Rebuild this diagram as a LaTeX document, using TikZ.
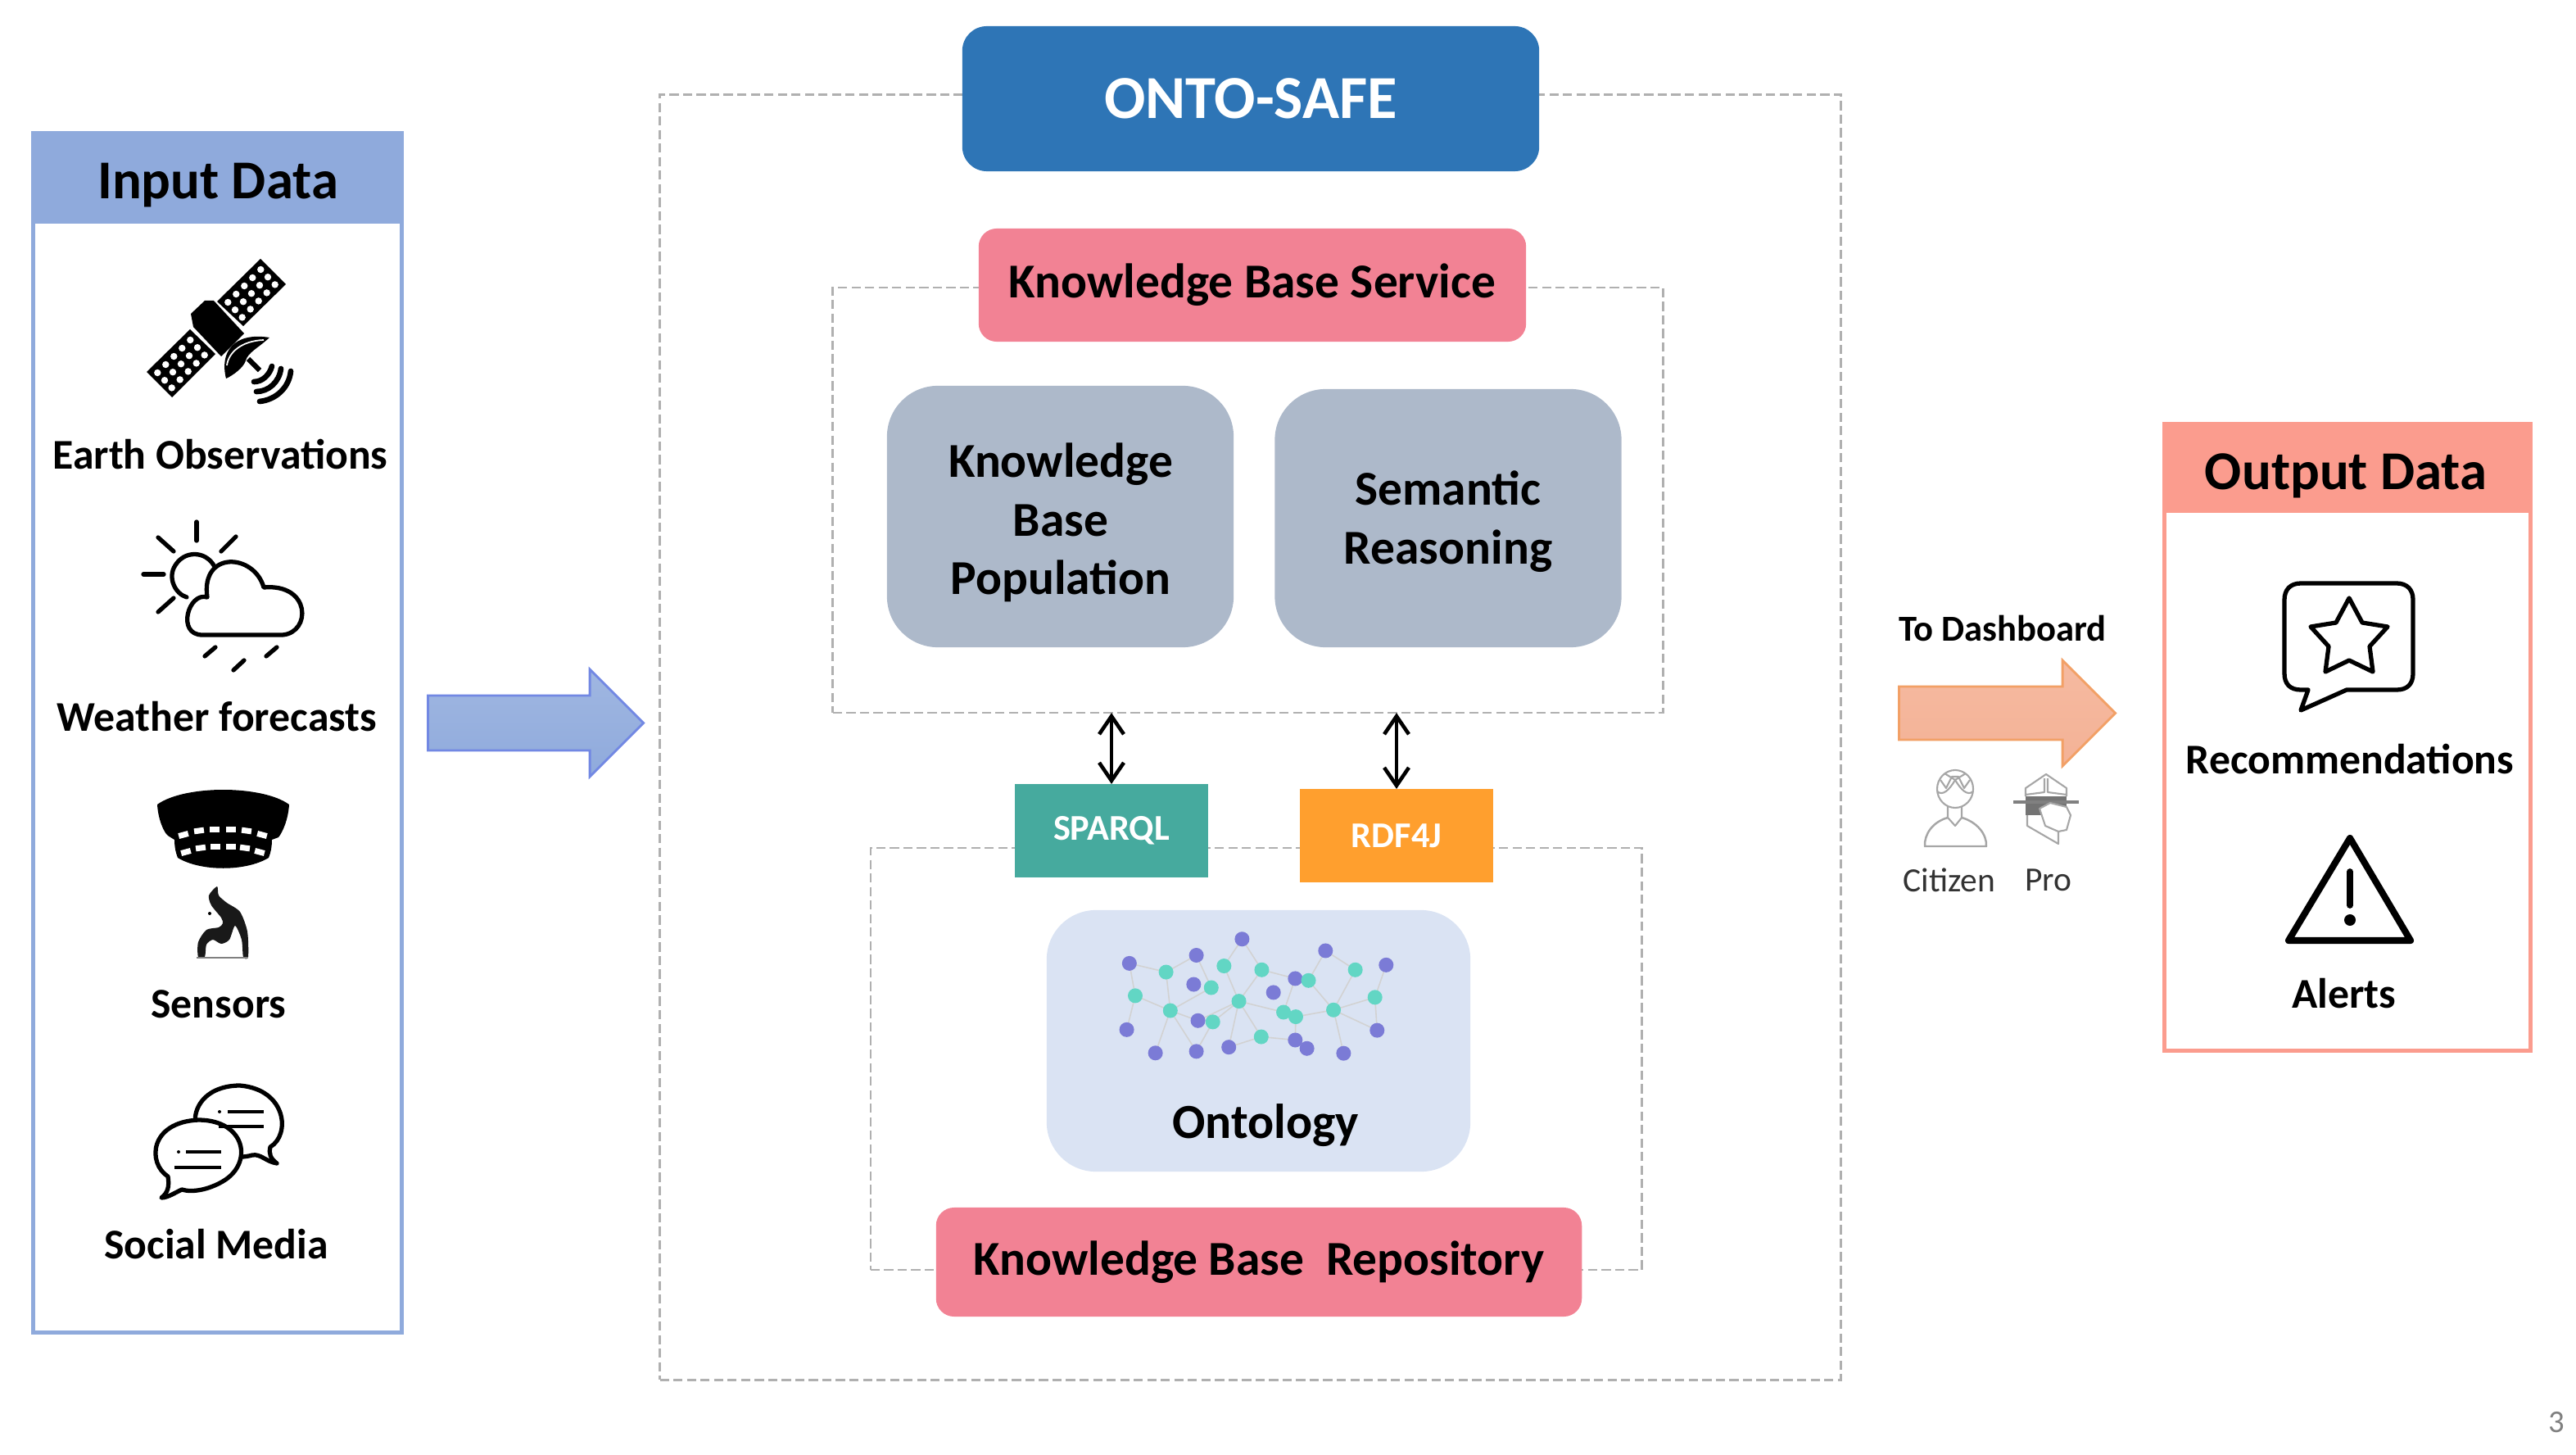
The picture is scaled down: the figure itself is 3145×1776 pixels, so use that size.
\documentclass[tikz,border=0pt]{standalone}
\usepackage{fontspec}
\setmainfont{Carlito}
\usetikzlibrary{arrows.meta,shapes.arrows}
\definecolor{inblue}{HTML}{8FAADC}
\definecolor{outsalmon}{HTML}{FB9C8E}
\definecolor{ontoblue}{HTML}{2E75B6}
\definecolor{kbpink}{HTML}{F28294}
\definecolor{slategray}{HTML}{ADB9CA}
\definecolor{paleblue}{HTML}{DAE3F3}
\definecolor{sparqlteal}{HTML}{46AA9E}
\definecolor{rdforange}{HTML}{FF9F2E}
\definecolor{dashgray}{HTML}{B0B0B0}
\definecolor{netpurple}{HTML}{7B7BD6}
\definecolor{netteal}{HTML}{62D6C4}
\definecolor{arrowpeach}{HTML}{F4B296}
\definecolor{arrowedge}{HTML}{F2A066}
\begin{document}
\begin{tikzpicture}[
    x=0.01cm, y=-0.01cm,
    panel/.style={rectangle, draw, line width=1.4pt, inner sep=0pt, outer sep=0pt},
    head/.style={rectangle, inner sep=0pt, outer sep=0pt},
    headtext/.style={inner sep=0pt, font=\fontsize{19}{23}\selectfont\bfseries},
    itemlabel/.style={inner sep=0pt, font=\fontsize{14.7}{18}\selectfont\bfseries},
    dashbox/.style={rectangle, draw=dashgray, line width=0.7pt, dash pattern=on 3.2pt off 1.5pt, inner sep=0pt, outer sep=0pt},
    kbtitle/.style={rectangle, rounded corners=0.22cm, fill=kbpink, inner sep=0pt, outer sep=0pt, font=\fontsize{16.9}{20}\selectfont\bfseries},
    module/.style={rectangle, rounded corners=0.62cm, fill=slategray, inner sep=0pt, minimum width=4.23cm},
    moduletext/.style={inner sep=0pt, align=center, font=\fontsize{16.9}{20.4}\selectfont\bfseries},
    endpoint/.style={rectangle, inner sep=0pt, outer sep=0pt, minimum width=2.35cm, minimum height=1.14cm, text=white, font=\fontsize{12.6}{15}\selectfont\bfseries},
    blockarrow/.style={single arrow, anchor=tail, single arrow head extend=0.32cm, single arrow tip angle=90, inner sep=0.32cm, line width=0.8pt},
    userlabel/.style={inner sep=0pt, text=black!80, font=\fontsize{11.8}{14}\selectfont},
    icon/.style={line width=1.5pt, line cap=round, line join=round},
    usericon/.style={draw=gray!70, line width=0.6pt, line join=round},
    linkarrow/.style={{Straight Barb[length=0.22cm,width=0.3cm]}-{Straight Barb[length=0.22cm,width=0.3cm]}, line width=1.3pt},
    netlink/.style={draw=gray!35, line width=0.45pt}
]
\useasboundingbox (0,0) rectangle (3145,1776);

\node[panel, draw=inblue, minimum width=4.50cm, minimum height=14.64cm] (inputbox) at (265.5,894.5) {};
\node[head, fill=inblue, minimum width=4.55cm, minimum height=1.13cm] (inputhead) at (265.5,216.5) {};
\node[headtext] (inputtitle) at (266,226) {Input Data};
\node[itemlabel] (earth) at (269,555) {Earth Observations};
\node[itemlabel] (weather) at (265,875) {Weather forecasts};
\node[itemlabel] (sensors) at (267,1226) {Sensors};
\node[itemlabel] (social) at (264,1519) {Social Media};

\fill (318,316) -- (349,347) -- (297,398) -- (265,368) -- cycle;
\fill (232,402) -- (263,432) -- (210,485) -- (179,454) -- cycle;
\foreach \ox/\oy in {318.3/329,232.3/415}
    \foreach \i in {0,...,4}
        \foreach \j in {0,...,2}
            \fill[white] (\ox-\i*10+\j*8.7,\oy+\i*10+\j*9.2) circle (0.042cm);
\fill (233,383) -- (250,367) -- (261,367) -- (298,407) -- (270,435) -- (236,399) -- cycle;
\fill (276,462) .. controls (268,430) and (285,405) .. (329,412) .. controls (315,425) and (303,430) .. (300,440) .. controls (298,448) and (285,458) .. cycle;
\draw[white, line width=0.5pt] (277,446) .. controls (279,430) and (295,416) .. (322,415);
\draw[line width=1.8pt] (303,438) -- (317,452);
\draw[icon, line width=1.9pt] (310,466) .. controls (320,466) and (329,458) .. (332,447);
\draw[icon, line width=1.9pt] (313,478) .. controls (328,478) and (341,466) .. (343,450);
\draw[icon, line width=1.9pt] (317,490) .. controls (337,488) and (353,473) .. (355,453);

\draw[icon] (261,690) .. controls (250,672) and (225,672) .. (214,690) .. controls (204,705) and (214,725) .. (228,729);
\draw[icon] (240,637) -- (240,660);
\draw[icon] (193,656) -- (212,673);
\draw[icon] (270,673) -- (288,655);
\draw[icon] (175,701) -- (200,701);
\draw[icon] (193,747) -- (212,730);
\draw[icon, fill=white] (247,775) -- (345,775) .. controls (380,772) and (380,712) .. (322,717)
    .. controls (310,675) and (245,672) .. (253,729) .. controls (230,722) and (215,775) .. (247,775) -- cycle;
\draw[icon] (250,801) -- (263,790);
\draw[icon] (285,818) -- (298,806);
\draw[icon] (325,801) -- (338,790);

\fill (192,982) .. controls (225,958) and (320,958) .. (353,982) .. controls (352,1000) and (345,1016) .. (340,1022) -- (332,1025)
    .. controls (332,1035) and (330,1042) .. (328,1047) .. controls (300,1064) and (245,1064) .. (217,1047)
    .. controls (215,1042) and (213,1035) .. (213,1025) -- (205,1020) .. controls (200,1016) and (193,1000) .. cycle;
\foreach \cx/\cy/\t in {224/1019/15,243/1014/8,262/1012/0,282/1012/0,301/1014/-8,320/1019/-15,227/1040/15,245/1035/8,263/1033/0,282/1033/0,299/1035/-8,317/1040/-15}
    \fill[white, rotate around={\t:(\cx,\cy)}] (\cx-6,\cy-3.5) rectangle (\cx+6,\cy+3.5);
\fill[black!90] plot[smooth cycle, tension=0.45] coordinates {(265,1082) (255,1093) (258,1105) (270,1120) (272,1127) (267,1132) (252,1135) (242,1150) (242,1168) (250,1168) (252,1153) (260,1147) (270,1152) (280,1147) (287,1130) (295,1147) (297,1168) (303,1168) (302,1137) (293,1113) (277,1102) (267,1093)};
\fill (256,1115) circle (0.02cm);
\draw[line width=0.5pt, gray] (240,1169) -- (303,1169);

\draw[icon, fill=white] (330,1400) .. controls (355,1385) and (350,1330) .. (293,1325) .. controls (240,1325) and (225,1370) .. (250,1395)
    .. controls (265,1412) and (290,1415) .. (308,1410) .. controls (318,1408) and (325,1418) .. (338,1420) .. controls (330,1414) and (328,1408) .. cycle;
\draw[icon, fill=white] (205,1436) .. controls (180,1420) and (182,1370) .. (242,1367) .. controls (300,1367) and (310,1420) .. (272,1442)
    .. controls (255,1452) and (235,1456) .. (222,1452) .. controls (215,1455) and (205,1462) .. (197,1462) .. controls (205,1456) and (207,1448) .. cycle;
\draw[line width=1.1pt] (278,1357) -- (322,1357) (267,1375) -- (322,1375) (227,1406) -- (270,1406) (213,1425) -- (270,1425);
\fill (268,1357) circle (0.02cm);
\fill (218,1406) circle (0.02cm);

\node[blockarrow, draw=inblue!80!blue, top color=inblue!85!white, bottom color=inblue, minimum height=2.63cm, minimum width=1.27cm] (inarrow) at (521,882.5) {};

\node[dashbox, minimum width=14.41cm, minimum height=15.68cm] (safebox) at (1526.5,900) {};
\node[rectangle, rounded corners=0.3cm, fill=ontoblue, text=white, inner sep=0pt, minimum width=7.04cm, minimum height=1.77cm, font=\fontsize{21.2}{25}\selectfont\bfseries] (ontosafe) at (1527,120.5) {ONTO-SAFE};

\node[dashbox, minimum width=10.13cm, minimum height=5.19cm] (servicebox) at (1523.5,610.5) {};
\node[kbtitle, minimum width=6.68cm, minimum height=1.38cm] (kbservice) at (1529,348) {\raisebox{-0.5pt}{Knowledge Base Service}};
\node[module, minimum height=3.19cm] (population) at (1294.5,630.5) {};
\node[module, minimum height=3.15cm] (reasoning) at (1768,632.5) {};
\node[moduletext] (populationtext) at (1295,638) {Knowledge\\Base\\Population};
\node[moduletext] (reasoningtext) at (1768,636.5) {Semantic\\Reasoning};

\node[dashbox, minimum width=9.41cm, minimum height=5.15cm] (repobox) at (1533.5,1292.5) {};
\node[endpoint, fill=sparqlteal] (sparql) at (1357,1014) {\raisebox{-1.1pt}{SPARQL}};
\node[endpoint, fill=rdforange] (rdfj) at (1705,1020) {RDF4J};
\node[rectangle, rounded corners=0.6cm, fill=paleblue, inner sep=0pt, minimum width=5.17cm, minimum height=3.19cm] (ontology) at (1536.5,1270.5) {};
\node[inner sep=0pt, font=\fontsize{17}{20}\selectfont] (ontotext) at (1545,1374) {\textbf{Ontology}};
\node[kbtitle, minimum width=7.88cm, minimum height=1.33cm] (kbrepo) at (1537,1540.5) {Knowledge Base\ \ Repository};

\draw[linkarrow] (servicebox.south -| sparql.north) -- (sparql.north);
\draw[linkarrow] (servicebox.south -| rdfj.north) -- (rdfj.north);

\begin{scope}[shift={(1042,850)}, xscale=.649, yscale=.395]
\foreach \i/\a/\b in {1/519/825,2/645/800,3/731/750,4/888/786,5/1002/830,6/640/890,7/831/872,8/790/915,9/648/1002,10/514/1030,11/568/1102,12/645/1097,13/706/1084,14/831/1062,15/853/1088,16/922/1103,17/985/1032}
    \coordinate (p\i) at (\a,\b);
\foreach \i/\a/\b in {1/588/852,2/697/833,3/768/845,4/856/878,5/944/845,6/673/900,7/530/925,8/596/971,9/725/942,10/809/976,11/832/990,12/903/969,13/981/930,14/676/1006,15/767/1052}
    \coordinate (t\i) at (\a,\b);
\end{scope}
\foreach \a/\b in {p1/t1,t1/p2,t1/t8,p1/t7,t7/t8,t7/p10,t8/t6,t8/p11,t8/p9,t8/p12,p2/t6,t2/p3,p3/t3,t2/t9,t3/t9,t3/p7,p7/t10,t9/t10,t9/t14,t9/p9,t9/p13,t9/t15,t10/t11,t11/t12,t12/t4,t12/t5,t12/t13,t12/p17,t12/p16,t4/p4,p4/t5,t13/p5,t13/p17,t14/p12,p13/t15,t15/p14,p14/t11,p14/p15}
    \draw[netlink] (\a) -- (\b);
\foreach \i in {1,...,17}
    \fill[netpurple] (p\i) circle (0.09cm);
\foreach \i in {1,...,15}
    \fill[netteal] (t\i) circle (0.09cm);

\node[blockarrow, draw=arrowedge, top color=arrowpeach!90!white, bottom color=arrowpeach, minimum height=2.64cm, minimum width=1.23cm, inner sep=0.31cm] (outarrow) at (2317,870.5) {};
\node[inner sep=0pt, font=\fontsize{12.7}{15}\selectfont\bfseries] (dashboard) at (2445,767) {To Dashboard};
\node[userlabel] (citizen) at (2380,1074) {Citizen};
\node[userlabel] (pro) at (2501,1074) {Pro};

\draw[usericon] (2387,963) ellipse [x radius=22, y radius=23];
\draw[usericon] (2365,966) .. controls (2372,972) and (2380,964) .. (2387,952) .. controls (2394,964) and (2402,972) .. (2409,966);
\draw[usericon] (2369,952) -- (2376,962) -- (2383,948) -- (2391,948) -- (2398,962) -- (2405,952);
\draw[usericon] (2374,944) -- (2387,952) -- (2400,944);
\draw[usericon] (2378,984) -- (2378,998) -- (2387,1008) -- (2395,998) -- (2395,984);
\draw[usericon, line width=0.7pt] (2378,998) .. controls (2360,1003) and (2349,1018) .. (2350,1033) -- (2425,1033) .. controls (2426,1018) and (2413,1003) .. (2395,998);

\fill[gray!90!black] (2473,972) rectangle (2523,995);
\draw[usericon] (2473,972) -- (2473,962) -- (2498,945) -- (2523,962) -- (2523,972) (2496,950) -- (2496,967) -- (2473,970) (2500,950) -- (2500,967) -- (2523,970);
\draw[usericon, draw=gray, line width=0.9pt] (2458,979) -- (2538,979);
\draw[usericon, fill=white] (2490,987) -- (2503,980) -- (2523,985) -- (2528,995) -- (2523,1013) -- (2513,1015) -- (2497,1008) -- cycle;
\draw[usericon] (2475,995) -- (2475,1008) -- (2513,1030) -- (2513,1015);

\node[panel, draw=outsalmon, minimum width=4.47cm, minimum height=7.65cm] (outputbox) at (2866,900) {};
\node[head, fill=outsalmon, minimum width=4.52cm, minimum height=1.11cm] (outputhead) at (2866,570.5) {};
\node[headtext] (outputtitle) at (2864,581) {Output Data};
\node[itemlabel] (recom) at (2869,927) {Recommendations};
\node[itemlabel] (alerts) at (2862,1213) {Alerts};

\begin{scope}[shift={(-6,0)}]
\draw[icon] (2815,712) -- (2932,712) .. controls (2945,712) and (2952,720) .. (2952,732) -- (2952,822)
    .. controls (2952,835) and (2945,842) .. (2932,842) -- (2871,842) -- (2815,867) -- (2824,842) -- (2815,842)
    .. controls (2802,842) and (2795,835) .. (2795,822) -- (2795,732) .. controls (2795,720) and (2802,712) .. (2815,712) -- cycle;
\draw[icon] (2874,730) -- (2890,760) -- (2921,765) -- (2899,789) -- (2903,820) -- (2874,806) -- (2845,820) -- (2849,789) -- (2827,765) -- (2858,760) -- cycle;
\draw[line width=2.3pt, line join=round] (2875,1023) -- (2949,1148) -- (2800,1148) -- cycle;
\draw[line width=2.2pt, line cap=round] (2875,1064) -- (2875,1105);
\fill (2875,1123) circle (0.07cm);
\end{scope}

\node[inner sep=0pt, text=gray, font=\fontsize{11}{13}\selectfont] (pagenum) at (3121,1736) {3};
\end{tikzpicture}
\end{document}
